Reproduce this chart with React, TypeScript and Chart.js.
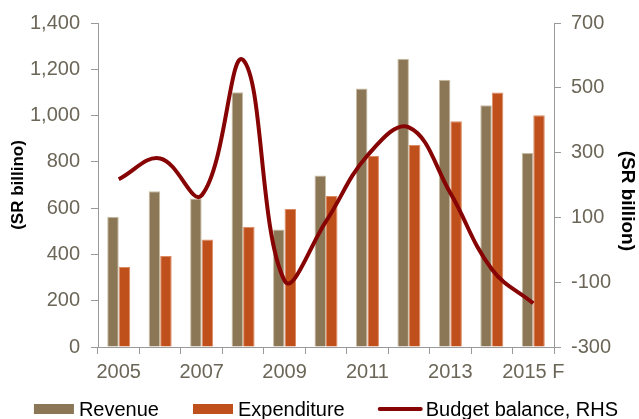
import React, { useEffect, useRef } from "react";
import { Chart, registerables } from "chart.js";

Chart.register(...registerables);

// Saudi budget: revenue and expenditure (LHS) with the balance (RHS), SR billion
const years = ["2005", "2006", "2007", "2008", "2009", "2010", "2011", "2012", "2013", "2014", "2015 F"];
const revenue = [563, 673, 642, 1101, 508, 741, 1117, 1246, 1155, 1045, 838];
const expenditure = [346, 393, 465, 520, 596, 653, 825, 873, 976, 1100, 1001];
const budgetBalance = [218, 282, 168, 586, -95, 88, 291, 378, 175, -60, -165];

const leftRange = { min: 0, max: 1400, step: 200 };
const rightRange = { min: -300, max: 700, step: 200 };

const REV_COLOR = "#8B7756";
const EXP_COLOR = "#C0501B";
const LINE_COLOR = "#870404";
const TICK_COLOR = "#6b6658";
const AXIS_COLOR = "#9a9a9a";
const FONT = '"Liberation Sans", Arial, sans-serif';

// Single-row legend under the axis: wide flat boxes for bars, a stroke for the line
const bottomLegend = {
  id: "bottomLegend",
  afterDraw(chart: any) {
    const { ctx, chartArea } = chart;
    ctx.save();
    ctx.font = `20px ${FONT}`;
    ctx.textBaseline = "middle";
    ctx.textAlign = "left";
    const rowY = chart.height - 10;
    const itemGap = 34;
    const items = chart.data.datasets.map((ds: any) => {
      const isLine = ds.type === "line";
      const mark = isLine ? 43 : 40;
      const gap = isLine ? 4 : 5;
      const tw = ctx.measureText(ds.label).width;
      return { ds, isLine, mark, gap, w: mark + gap + tw };
    });
    const total = items.reduce((s: number, it: any) => s + it.w, 0) + itemGap * (items.length - 1);
    let x = (chartArea.left + chartArea.right) / 2 - total / 2;
    for (const it of items) {
      if (it.isLine) {
        ctx.strokeStyle = it.ds.borderColor;
        ctx.lineWidth = 4;
        ctx.lineCap = "round";
        ctx.beginPath();
        ctx.moveTo(x + 1, rowY);
        ctx.lineTo(x + it.mark - 1, rowY);
        ctx.stroke();
      } else {
        ctx.fillStyle = it.ds.backgroundColor;
        ctx.fillRect(x, rowY - 5, it.mark, 10);
      }
      ctx.fillStyle = "#000";
      ctx.fillText(it.ds.label, x + it.mark + it.gap, rowY + 1);
      x += it.w + itemGap;
    }
    ctx.restore();
  },
};

export default function App() {
  const canvasRef = useRef<HTMLCanvasElement | null>(null);

  useEffect(() => {
    if (!canvasRef.current) return;
    const chart = new Chart(canvasRef.current, {
      type: "bar",
      data: {
        labels: years,
        datasets: [
          {
            type: "bar",
            label: "Revenue",
            data: revenue,
            backgroundColor: REV_COLOR,
            borderColor: "#c9bba2",
            borderWidth: 1,
            categoryPercentage: 0.555,
            barPercentage: 1,
            yAxisID: "y",
            order: 1,
          },
          {
            type: "bar",
            label: "Expenditure",
            data: expenditure,
            backgroundColor: EXP_COLOR,
            borderColor: "#dc8a62",
            borderWidth: 1,
            categoryPercentage: 0.555,
            barPercentage: 1,
            yAxisID: "y",
            order: 1,
          },
          {
            type: "line",
            label: "Budget balance, RHS",
            data: budgetBalance,
            borderColor: LINE_COLOR,
            backgroundColor: LINE_COLOR,
            borderWidth: 4,
            pointRadius: 0,
            tension: 0.4,
            fill: false,
            yAxisID: "y1",
            order: 0,
          },
        ] as any,
      },
      options: {
        animation: false,
        responsive: true,
        maintainAspectRatio: false,
        layout: { padding: { top: 21, left: 0, right: 0, bottom: 0 } },
        plugins: {
          legend: { display: false },
          tooltip: { enabled: false },
        },
        scales: {
          x: {
            offset: true,
            grid: {
              display: true,
              offset: true,
              drawOnChartArea: false,
              drawTicks: true,
              tickLength: 7,
              color: AXIS_COLOR,
            },
            border: { display: true, color: AXIS_COLOR, width: 1 },
            ticks: {
              autoSkip: false,
              maxRotation: 0,
              padding: 6,
              color: TICK_COLOR,
              font: { family: FONT, size: 20 },
              callback: (_v: any, i: number) => (i % 2 === 0 ? years[i] : ""),
            },
            afterFit: (s: any) => {
              s.height = 72;
            },
          },
          y: {
            position: "left",
            min: leftRange.min,
            max: leftRange.max,
            grid: {
              display: true,
              drawOnChartArea: false,
              drawTicks: true,
              tickLength: 7,
              color: AXIS_COLOR,
            },
            border: { display: true, color: AXIS_COLOR, width: 1 },
            ticks: {
              stepSize: leftRange.step,
              padding: 11,
              color: TICK_COLOR,
              font: { family: FONT, size: 20 },
            },
            title: {
              display: true,
              text: "(SR billino)",
              color: "#000",
              font: { family: FONT, size: 17, weight: "bold" },
              padding: { top: 8, bottom: 0 },
            },
            afterFit: (s: any) => {
              s.width = 98;
            },
          },
          y1: {
            position: "right",
            min: rightRange.min,
            max: rightRange.max,
            grid: {
              display: true,
              drawOnChartArea: false,
              drawTicks: true,
              tickLength: 7,
              color: AXIS_COLOR,
            },
            border: { display: true, color: AXIS_COLOR, width: 1 },
            ticks: {
              stepSize: rightRange.step,
              padding: 10,
              color: TICK_COLOR,
              font: { family: FONT, size: 20 },
            },
            title: {
              display: true,
              // leading spaces push the rotated title a little below the axis middle
              text: "      (SR billion)",
              color: "#000",
              font: { family: FONT, size: 19, weight: "bold" },
              padding: { top: 0, bottom: 0 },
            },
            afterFit: (s: any) => {
              s.width = 85;
            },
          },
        },
      } as any,
      plugins: [bottomLegend],
    });
    return () => chart.destroy();
  }, []);

  return (
    <div style={{ position: "fixed", left: 0, top: 0, width: 639, height: 419, background: "#fff" }}>
      <canvas ref={canvasRef} />
    </div>
  );
}
